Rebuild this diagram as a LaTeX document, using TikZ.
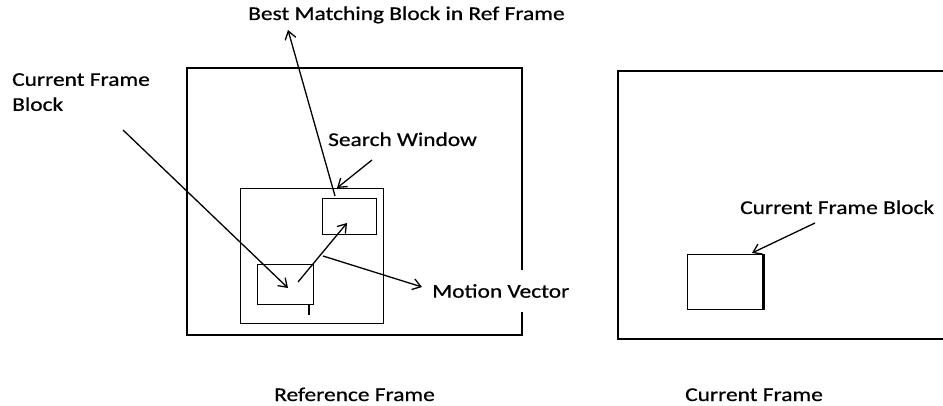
\documentclass[tikz,border=0pt]{standalone}
\usepackage{fontspec}
\setmainfont{Carlito}
\newfontfamily\lblfont[FakeBold=0.6]{Carlito}
\usetikzlibrary{arrows.meta}
\newcommand\wide[1]{\scalebox{1.2}[1]{#1}}
\begin{document}
\begin{tikzpicture}[x=1pt,y=-1pt,
  frame/.style={draw, line width=1.3pt},
  arr/.style={draw, line width=1.3pt, -{Straight Barb[length=8pt,width=11pt,line width=1.3pt]}},
  lbl/.style={font=\lblfont\fontsize{19.5}{25}\selectfont, inner sep=0pt, anchor=base west}]
\useasboundingbox (0,0) rectangle (943,406);
% reference frame
\draw[frame] (522,270) -- (522,68) -- (187,68) -- (187,335) -- (522,335) -- (522,312);
\node[frame, anchor=north west, minimum width=143pt, minimum height=135pt, inner sep=0] (sw) at (240,188) {};
\node[frame, anchor=north west, minimum width=54pt, minimum height=36pt, inner sep=0] (best) at (322,198) {};
\node[frame, anchor=north west, minimum width=56pt, minimum height=40pt, inner sep=0] (cur) at (257,264) {};
\coordinate (tickA) at (309,304);
\coordinate (tickB) at (309,315);
\draw[frame] (tickA) -- (tickB);
% current frame
\draw[frame] (945,71) -- (618,71) -- (618,339) -- (945,339);
\node[frame, anchor=north west, minimum width=75pt, minimum height=55pt, inner sep=0] (cblk) at (687,254) {};
\draw[line width=2.4pt] (cblk.north east) -- (cblk.south east);
% labels
\node[lbl] (tbest) at (248,20) {\wide{Best Matching Block in Ref Frame}};
\node[lbl] (tsw) at (328,146) {\wide{Search Window}};
\node[font=\lblfont\fontsize{19.5}{25}\selectfont, fill=white, inner sep=0pt, anchor=west, minimum height=42pt] (tmv) at (432,291) {\wide{Motion Vector}};
\node[lbl, anchor=north west, align=left] (tcfb) at (12,73) {\wide{Current Frame}\\\wide{Block}};
\node[lbl] (tcfb2) at (740,214) {\wide{Current Frame Block}};
\node[lbl] (tref) at (274,401) {\wide{Reference Frame}};
\node[lbl] (tcur) at (685,401) {\wide{Current Frame}};
% arrows
\coordinate (a1s) at (335,196); \coordinate (a1e) at (288,30);
\coordinate (a2s) at (372,160); \coordinate (a2e) at (337,188);
\coordinate (a3s) at (123,130); \coordinate (a3e) at (288,288);
\coordinate (a4s) at (298,282); \coordinate (a4e) at (347,223);
\coordinate (a5s) at (323,256); \coordinate (a5e) at (422,287);
\coordinate (a6s) at (815,223); \coordinate (a6e) at (752,253);
\draw[arr] (a1s) -- (a1e);
\draw[arr] (a2s) -- (a2e);
\draw[arr] (a3s) -- (a3e);
\draw[arr] (a4s) -- (a4e);
\draw[arr] (a5s) -- (a5e);
\draw[arr] (a6s) -- (a6e);
\end{tikzpicture}
\end{document}
